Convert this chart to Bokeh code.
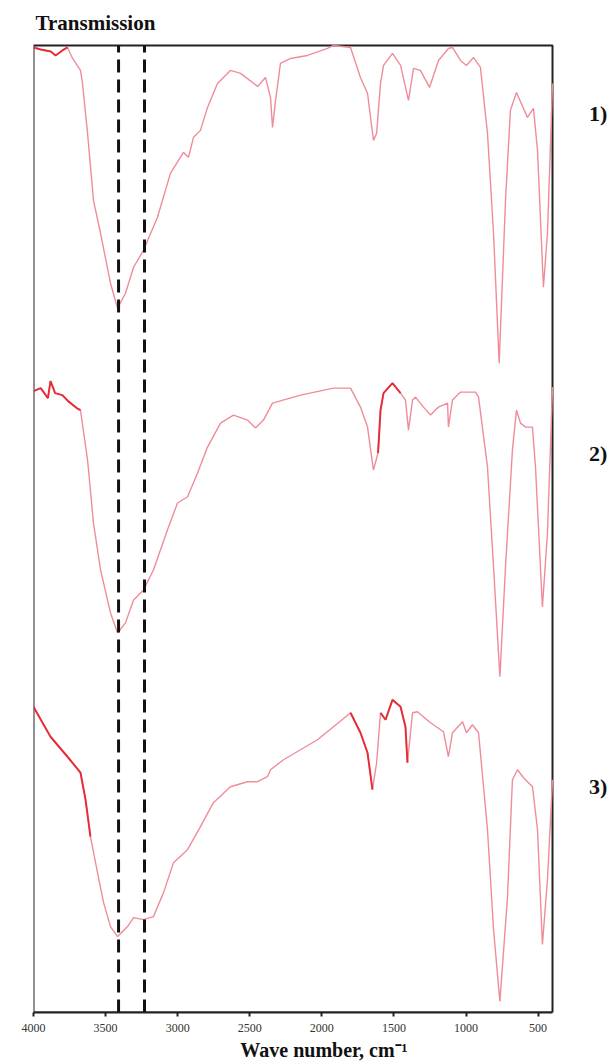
from bokeh.plotting import figure
from bokeh.models import Range1d, Label, FixedTicker
from bokeh.embed import file_html
from bokeh.resources import INLINE

# ---- data (wavenumber, cm-1 ; transmission, arbitrary stacked units) ----
wn1 = [4000, 3950, 3880, 3847, 3800, 3764, 3729, 3674, 3660, 3625, 3584, 3535, 3466, 3417,
       3362, 3306, 3237, 3140, 3050, 2960, 2925, 2890, 2842, 2793, 2724, 2634, 2564, 2446,
       2391, 2356, 2342, 2321, 2287, 2217, 2100, 1961, 1919, 1801, 1732, 1683, 1642, 1620,
       1593, 1572, 1510, 1454, 1399, 1364, 1316, 1253, 1191, 1122, 1094, 1038, 997, 948,
       900, 851, 809, 770, 726, 692, 650, 574, 532, 504, 463, 435, 400]
t1 = [966, 964, 962, 958, 963, 966, 955, 943, 930, 880, 813, 780, 730, 705,
      720, 746, 763, 796, 840, 861, 856, 876, 883, 906, 930, 943, 940, 927,
      936, 916, 886, 913, 950, 955, 958, 965, 968, 966, 936, 920, 873, 880,
      930, 948, 960, 948, 913, 945, 943, 926, 953, 965, 966, 953, 948, 956,
      946, 880, 780, 650, 813, 903, 921, 896, 905, 863, 726, 780, 930]

wn2 = [4000, 3950, 3900, 3882, 3850, 3800, 3760, 3700, 3674, 3625, 3584, 3535, 3466, 3417,
       3362, 3306, 3237, 3168, 3071, 3001, 2932, 2862, 2793, 2703, 2613, 2516, 2460, 2405,
       2342, 2148, 1919, 1801, 1732, 1683, 1642, 1610, 1593, 1572, 1510, 1454, 1420, 1399,
       1371, 1350, 1295, 1246, 1191, 1128, 1122, 1094, 1038, 934, 913, 851, 809, 765,
       726, 678, 650, 622, 587, 539, 518, 470, 435, 400]
t2 = [622, 625, 615, 632, 620, 618, 612, 605, 603, 553, 490, 443, 400, 380,
      390, 413, 423, 443, 483, 510, 516, 540, 566, 590, 598, 593, 585, 593,
      610, 618, 625, 625, 606, 586, 543, 560, 603, 620, 630, 620, 613, 583,
      613, 616, 606, 598, 606, 610, 586, 613, 621, 621, 616, 546, 446, 336,
      446, 563, 603, 590, 586, 586, 546, 406, 480, 626]

wn3 = [4000, 3882, 3764, 3674, 3639, 3605, 3556, 3514, 3466, 3417, 3348, 3306, 3237, 3168,
       3098, 3029, 2932, 2842, 2752, 2634, 2516, 2446, 2377, 2356, 2266, 2030, 1919, 1801,
       1732, 1683, 1649, 1620, 1593, 1558, 1510, 1454, 1420, 1406, 1371, 1337, 1246, 1156,
       1122, 1094, 1024, 997, 955, 913, 851, 809, 765, 712, 678, 643, 601, 539,
       504, 470, 435, 400]
t3 = [306, 276, 256, 240, 213, 176, 140, 110, 86, 76, 86, 95, 93, 96,
      120, 150, 163, 186, 210, 226, 231, 231, 236, 243, 253, 273, 286, 300,
      280, 260, 223, 250, 300, 293, 313, 306, 286, 250, 300, 301, 290, 281,
      256, 280, 291, 280, 288, 280, 183, 83, 11, 116, 233, 243, 235, 226,
      183, 68, 133, 233]

spectrum_names = ["1)", "2)", "3)"]
marker_lines = [3410, 3230]
x_ticks = [4000, 3500, 3000, 2500, 2000, 1500, 1000, 500]

WN_MAX, WN_MIN = 4000, 400      # spectral window of the plot box
T_MIN, T_MAX = 0, 968           # transmission window of the plot box

# ---- figure ----
# the frame also spans the right/top margin, so that the labels there are drawn
p = figure(width=614, height=1063, output_backend="svg", toolbar_location=None,
           x_range=Range1d(WN_MAX, -30), y_range=Range1d(T_MIN, 1013),
           y_axis_location=None,
           min_border_left=33, min_border_right=0, min_border_top=0, min_border_bottom=50)
p.grid.visible = False
p.background_fill_color = "white"
p.border_fill_color = "white"
p.outline_line_color = None

p.xaxis.bounds = (WN_MIN, WN_MAX)
p.xaxis.ticker = FixedTicker(ticks=x_ticks)
p.xaxis.axis_line_color = "#222222"
p.xaxis.axis_line_width = 2
p.xaxis.major_tick_line_color = "#222222"
p.xaxis.major_tick_line_width = 2
p.xaxis.major_tick_out = 4
p.xaxis.major_tick_in = 0
p.xaxis.minor_tick_line_color = None
p.xaxis.major_label_text_font = "Liberation Serif"
p.xaxis.major_label_text_font_size = "12px"
p.xaxis.major_label_text_color = "#333333"
p.xaxis.major_label_standoff = 7
p.xaxis.axis_label = "Wave number, cm\u207b\u00b9"
p.xaxis.axis_label_text_font = "Liberation Serif"
p.xaxis.axis_label_text_font_style = "bold"
p.xaxis.axis_label_text_font_size = "20px"
p.xaxis.axis_label_text_color = "#111111"
p.xaxis.axis_label_standoff = 4

# plot box
p.quad(left=WN_MAX, right=WN_MIN, bottom=T_MIN, top=T_MAX, fill_color=None,
       line_color="#222222", line_width=2)

line_color = "#f08c98"
noise_color = "#e31a24"
noise_ranges = [[(4000, 3740)], [(4000, 3670), (1620, 1440)], [(4000, 3580), (1810, 1640), (1610, 1400)]]

for (wn, t, nr) in zip([wn1, wn2, wn3], [t1, t2, t3], noise_ranges):
    p.line(wn, t, line_color=line_color, line_width=1.4)
    for hi, lo in nr:
        xs = [w for w in wn if lo <= w <= hi]
        ys = [v for w, v in zip(wn, t) if lo <= w <= hi]
        p.line(xs, ys, line_color=noise_color, line_width=2.0, line_alpha=0.85)

p.segment(x0=marker_lines, x1=marker_lines, y0=[T_MIN] * len(marker_lines),
          y1=[T_MAX] * len(marker_lines), line_color="#111111", line_width=3,
          line_dash="13 7")

p.add_layout(Label(x=3986, y=990, text="Transmission", text_font="Liberation Serif",
                   text_font_style="bold", text_font_size="21px", text_color="#111111",
                   text_align="left", text_baseline="middle"))

label_y = [900, 560, 226]
for name, ly in zip(spectrum_names, label_y):
    p.add_layout(Label(x=84, y=ly, text=name, text_font="Liberation Serif",
                       text_font_style="bold", text_font_size="22px", text_color="#111111",
                       text_align="center", text_baseline="middle"))

open("out.html", "w").write(file_html(p, INLINE))
